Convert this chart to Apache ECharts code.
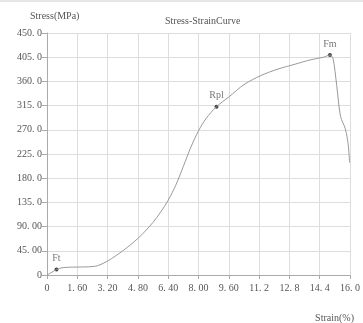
<!DOCTYPE html>
<html>
<head>
<meta charset="utf-8">
<script src="https://cdn.jsdelivr.net/npm/echarts@6/dist/echarts.min.js"></script>
<style>html,body{margin:0;padding:0;background:#fff;}#c{width:363px;height:323px;}</style>
</head>
<body>
<div id="c"></div>
<script>
// Curve data: [strain %, stress MPa]
const strain = [0, 0.2, 0.5, 0.8, 1.2, 2.0, 2.5, 2.8, 3.2, 3.6, 4.0, 4.4, 4.8, 5.2, 5.6, 6.0, 6.4, 6.8, 7.2, 7.6, 8.0, 8.4, 8.95, 9.6, 10.4, 11.3, 12.2, 13.1, 13.9, 14.6, 14.94, 15.1, 15.3, 15.5, 15.75, 15.9, 15.98];
const stress = [0, 4, 10, 13.5, 14.5, 15, 16, 19, 26, 35, 45, 56, 68, 82, 98, 117, 139, 167, 202, 238, 268, 291, 313, 331, 354, 371, 383, 392, 400, 405, 409, 403, 352, 295, 272, 244, 209];
// Marked points
const markNames = ['Ft', 'Rpl', 'Fm'];
const markStrain = [0.5, 8.95, 14.94];
const markStress = [10, 313, 409];
// Tick labels
const xTickLabels = ['0', '1. 60', '3. 20', '4. 80', '6. 40', '8. 00', '9. 60', '11. 2', '12. 8', '14. 4', '16. 0'];
const yTickLabels = ['0', '45. 00', '90. 00', '135. 0', '180. 0', '225. 0', '270. 0', '315. 0', '360. 0', '405. 0', '450. 0'];

const font = 'Liberation Serif';
const txt = '#555';
const chart = echarts.init(document.getElementById('c'));
chart.setOption({
  animation: false,
  backgroundColor: '#fff',
  title: {
    text: 'Stress-StrainCurve', left: 160, top: 11,
    textStyle: { fontFamily: font, fontSize: 10, fontWeight: 'normal', color: txt }
  },
  grid: { left: 47, right: 10, top: 33, bottom: 28.3 },
  xAxis: {
    type: 'value', min: 0, max: 16, interval: 1.6,
    name: 'Strain(%)', nameLocation: 'end', nameGap: 4,
    nameTextStyle: { fontFamily: font, fontSize: 10, color: txt, align: 'right', verticalAlign: 'top', padding: [38, 0, 0, 0] },
    axisLine: { lineStyle: { color: '#aaa' } },
    axisTick: { show: true, length: 4, lineStyle: { color: '#aaa' } },
    axisLabel: { fontFamily: font, fontSize: 10, color: txt, margin: 8, showMaxLabel: true,
      formatter: v => xTickLabels[Math.round(v / 1.6)] },
    splitLine: { show: true, lineStyle: { color: '#ddd' } }
  },
  yAxis: {
    type: 'value', min: 0, max: 450, interval: 45,
    name: 'Stress(MPa)', nameLocation: 'end', nameGap: 12,
    nameTextStyle: { fontFamily: font, fontSize: 10, color: txt, align: 'left', padding: [0, 0, 0, -17] },
    axisLine: { show: true, lineStyle: { color: '#aaa' } },
    axisTick: { show: true, length: 5, lineStyle: { color: '#aaa' } },
    axisLabel: { fontFamily: font, fontSize: 10, color: txt, margin: 5,
      formatter: v => yTickLabels[Math.round(v / 45)] },
    splitLine: { show: true, lineStyle: { color: '#ddd' } }
  },
  graphic: [{ type: 'line', shape: { x1: 0, y1: 1, x2: 363, y2: 1 }, style: { stroke: '#ccc', lineWidth: 1 } }],
  series: [
    {
      type: 'line', smooth: 0.3, symbol: 'none',
      lineStyle: { color: '#999', width: 1 },
      data: strain.map((s, i) => [s, stress[i]])
    },
    {
      type: 'scatter', symbolSize: 4, itemStyle: { color: '#111' },
      label: { show: true, position: 'top', distance: 4, fontFamily: font, fontSize: 10, color: txt,
        formatter: p => p.data[2] },
      data: markNames.map((n, i) => [markStrain[i], markStress[i], n])
    }
  ]
});
</script>
</body>
</html>
